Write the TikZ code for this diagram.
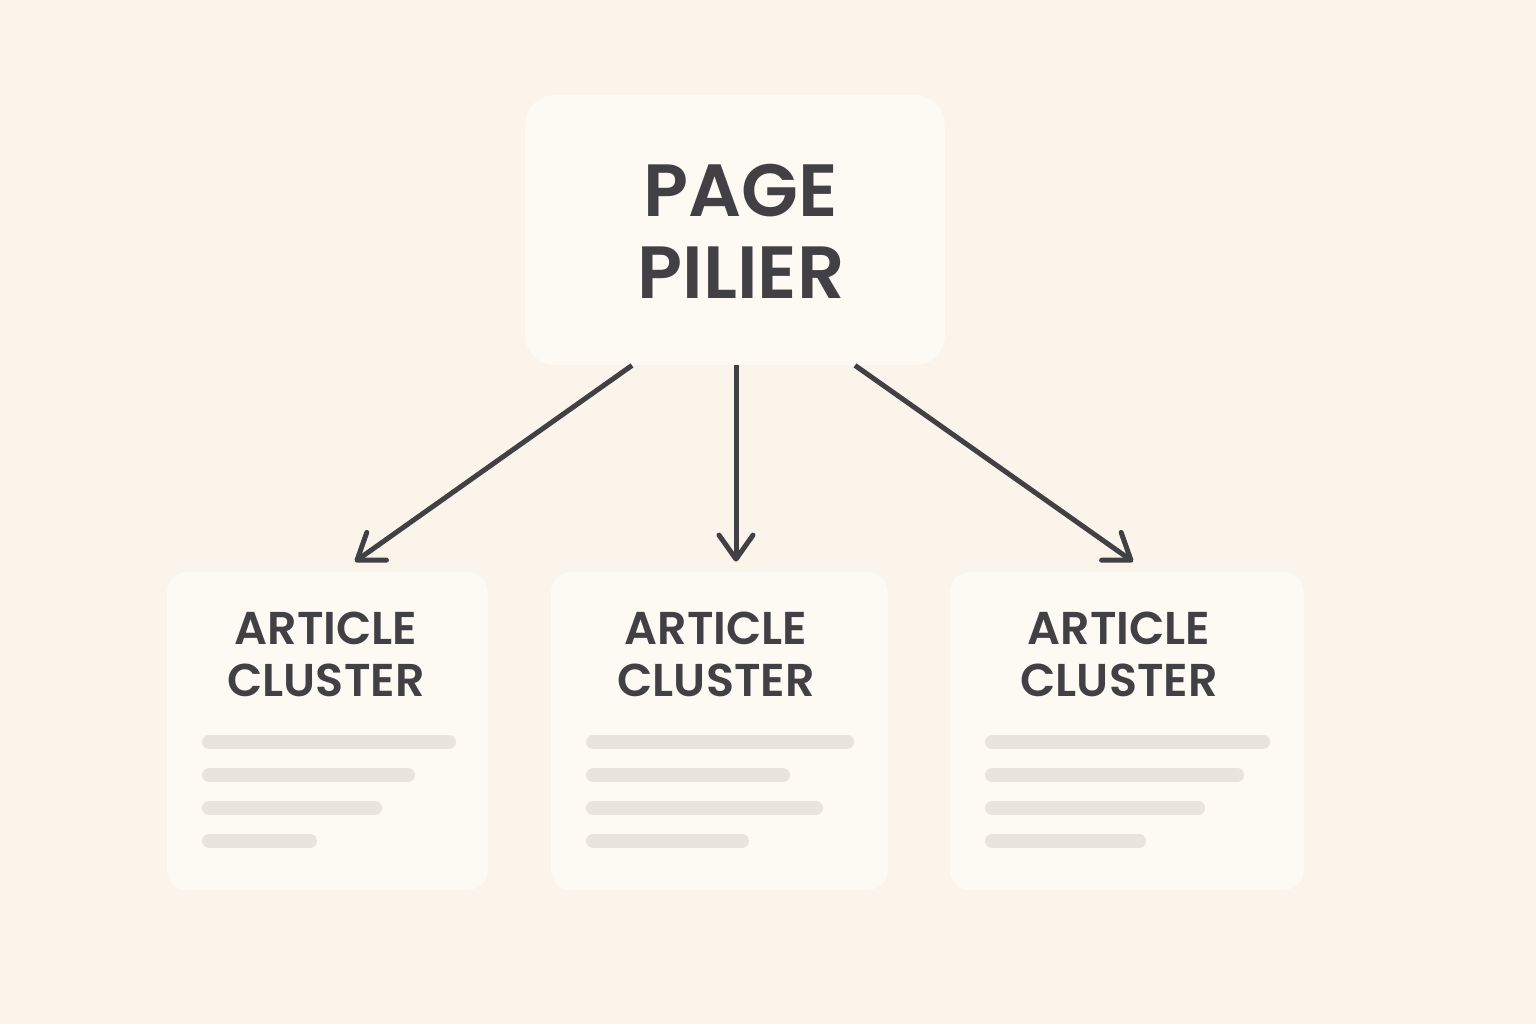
\documentclass[tikz,border=0pt]{standalone}
\usepackage{fontspec}
\setmainfont{Poppins}[BoldFont={Poppins SemiBold}]
\usetikzlibrary{arrows.meta}
\definecolor{bgcol}{HTML}{FAF4EA}
\definecolor{boxcol}{HTML}{FDFAF4}
\definecolor{barcol}{HTML}{E9E4DD}
\definecolor{inkcol}{HTML}{414145}
\tikzset{
  pagebox/.style={fill=boxcol,rounded corners=15pt,inner sep=0pt,minimum width=210pt,minimum height=135pt},
  clusterbox/.style={fill=boxcol,rounded corners=10pt,inner sep=0pt,minimum height=159pt},
  bigtitle/.style={text=inkcol,align=center,font=\fontsize{37}{41}\selectfont\bfseries},
  smalltitle/.style={text=inkcol,align=center,font=\fontsize{23}{26}\selectfont\bfseries},
  bar/.style={draw=barcol,line width=7pt,line cap=round}
}
\begin{document}
\begin{tikzpicture}[x=0.5pt,y=-0.5pt,>={Straight Barb[length=12pt,width=17pt,round]}]
	\fill[bgcol] (0,0) rectangle (1536,1024);
	\useasboundingbox (0,0) rectangle (1536,1024);
	% pillar page
	\node[pagebox] (page) at (735,230) {};
	\node[bigtitle] (pagetxt) at (741,231) {PAGE\\PILIER};
	% clusters
	\node[clusterbox,minimum width=160.5pt] (c1) at (327.5,731) {};
	\node[clusterbox,minimum width=168.5pt] (c2) at (719.5,731) {};
	\node[clusterbox,minimum width=177pt] (c3) at (1127,731) {};
	\node[smalltitle] (t1) at (326,654) {ARTICLE\\CLUSTER};
	\node[smalltitle] (t2) at (716,654) {ARTICLE\\CLUSTER};
	\node[smalltitle] (t3) at (1119,654) {ARTICLE\\CLUSTER};
	\foreach \x/\a/\b/\c/\d in {202/456/415/382/317,586/854/790/823/749,985/1270/1244/1205/1146}{
		\draw[bar] (\x+7,742) -- (\a-7,742);
		\draw[bar] (\x+7,775) -- (\b-7,775);
		\draw[bar] (\x+7,808) -- (\c-7,808);
		\draw[bar] (\x+7,841) -- (\d-7,841);
	}
	% arrows
	\draw[->,inkcol,line width=2.5pt] ([xshift=-51.5pt]page.south) -- ([xshift=13.75pt,yshift=5pt]c1.north);
	\draw[->,inkcol,line width=2.5pt] ([xshift=0.5pt]page.south) -- ([xshift=8.25pt,yshift=5pt]c2.north);
	\draw[->,inkcol,line width=2.5pt] ([xshift=60pt]page.south) -- ([xshift=3pt,yshift=5pt]c3.north);
\end{tikzpicture}
\end{document}
